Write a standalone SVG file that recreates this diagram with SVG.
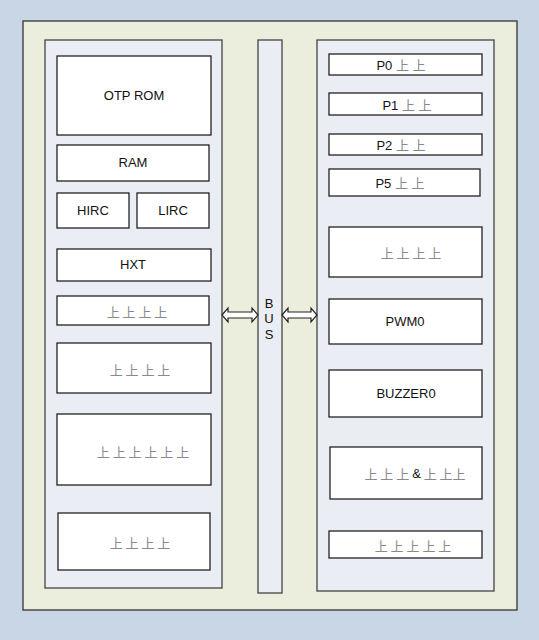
<svg xmlns="http://www.w3.org/2000/svg" width="539" height="640" viewBox="0 0 539 640">
<defs>
<style>
.bg{fill:#c9d6e5}
.outer{fill:#ebeedd;stroke:#333;stroke-width:1.3}
.panel{fill:#eaedf3;stroke:#444;stroke-width:1.3}
.box{fill:#fff;stroke:#222;stroke-width:1.3}
.t{font-family:"Liberation Sans",Arial,"Noto Sans CJK SC",sans-serif;font-size:13px;fill:#111;text-anchor:middle;dominant-baseline:central}
.c{font-family:"Noto Sans CJK SC","Liberation Sans",sans-serif;font-size:13px;fill:#8a8a8a;text-anchor:middle;dominant-baseline:central}
.arrow{fill:#fff;stroke:#222;stroke-width:1.2}
</style>
</defs>
<rect class="bg" x="0" y="0" width="539" height="640"/>
<rect class="outer" x="23" y="21" width="494" height="589"/>
<g id="left-panel"><rect class="panel" x="45" y="40" width="177" height="548"/></g>
<g id="bus"><rect class="panel" x="258" y="40" width="24" height="553"/>
<text class="t" x="269" y="303">B</text><text class="t" x="269" y="318">U</text><text class="t" x="269" y="334">S</text></g>
<g id="right-panel"><rect class="panel" x="317" y="40" width="177" height="551"/></g>

<g id="otprom"><rect class="box" x="57" y="56" width="154" height="79"/><text class="t" x="134" y="95">OTP ROM</text></g>
<g id="ram"><rect class="box" x="57" y="145" width="152" height="36"/><text class="t" x="133" y="162">RAM</text></g>
<g id="hirc"><rect class="box" x="57" y="193" width="72" height="35"/><text class="t" x="93" y="210">HIRC</text></g>
<g id="lirc"><rect class="box" x="137" y="193" width="72" height="35"/><text class="t" x="173" y="210">LIRC</text></g>
<g id="hxt"><rect class="box" x="57" y="249" width="154" height="32"/><text class="t" x="133" y="264">HXT</text></g>
<g id="l1"><rect class="box" x="57" y="296" width="152" height="29"/><text class="c" x="137" y="311">上 上 上 上</text></g>
<g id="l2"><rect class="box" x="57" y="343" width="154" height="50"/><text class="c" x="140" y="369">上 上 上 上</text></g>
<g id="l3"><rect class="box" x="57" y="414" width="154" height="71"/><text class="c" x="143" y="451">上 上 上 上 上 上</text></g>
<g id="l4"><rect class="box" x="58" y="513" width="152" height="57"/><text class="c" x="140" y="542">上 上 上 上</text></g>

<g id="p0"><rect class="box" x="329" y="54" width="153" height="21"/><text class="t" x="401" y="65">P0 <tspan fill="#8a8a8a">上 上</tspan></text></g>
<g id="p1"><rect class="box" x="329" y="93" width="153" height="22"/><text class="t" x="407" y="105">P1 <tspan fill="#8a8a8a">上 上</tspan></text></g>
<g id="p2"><rect class="box" x="329" y="134" width="153" height="21"/><text class="t" x="401" y="145">P2 <tspan fill="#8a8a8a">上 上</tspan></text></g>
<g id="p5"><rect class="box" x="329" y="169" width="151" height="27"/><text class="t" x="400" y="183">P5 <tspan fill="#8a8a8a">上 上</tspan></text></g>
<g id="r1"><rect class="box" x="329" y="227" width="153" height="50"/><text class="c" x="411" y="252">上 上 上 上</text></g>
<g id="pwm0"><rect class="box" x="329" y="299" width="153" height="45"/><text class="t" x="405" y="321">PWM0</text></g>
<g id="buzzer0"><rect class="box" x="329" y="370" width="153" height="47"/><text class="t" x="406" y="393">BUZZER0</text></g>
<g id="r2"><rect class="box" x="330" y="447" width="152" height="52"/><text class="c" x="415" y="473">上 上 上 <tspan fill="#111" font-family="Liberation Sans, sans-serif">&amp;</tspan> 上 上上</text></g>
<g id="r3"><rect class="box" x="329" y="531" width="153" height="27"/><text class="c" x="413" y="545">上 上 上 上 上</text></g>

<g id="connectors">
<path class="arrow" d="M222,315 L228,308 L228,312 L252,312 L252,308 L258,315 L252,322 L252,318 L228,318 L228,322 Z"/>
<path class="arrow" d="M282,315 L288,308 L288,312 L311,312 L311,308 L317,315 L311,322 L311,318 L288,318 L288,322 Z"/>
</g>
</svg>
